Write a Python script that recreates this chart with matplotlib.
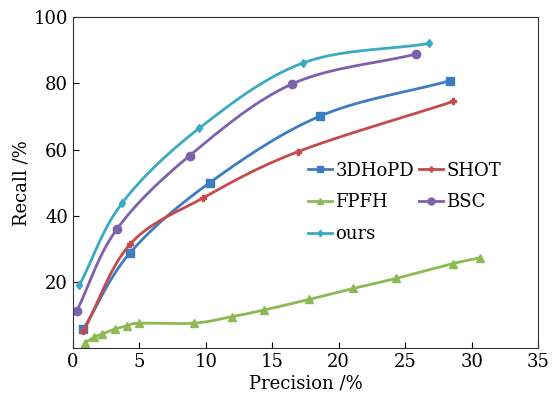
import numpy as np
import matplotlib
matplotlib.use("Agg")
import matplotlib.pyplot as plt
from matplotlib.lines import Line2D

# values
names = ["3DHoPD", "SHOT", "FPFH", "BSC", "ours"]
hopd_x = [0.8, 4.3, 10.3, 18.6, 28.4]
hopd_y = [5.9, 28.8, 50.0, 70.1, 80.8]
shot_x = [0.8, 4.3, 9.8, 16.9, 28.6]
shot_y = [5.2, 31.4, 45.4, 59.3, 74.5]
fpfh_x = [0.9, 1.6, 2.2, 3.2, 4.1, 5.0, 9.1, 12.0, 14.4, 17.8, 21.1, 24.3, 28.6, 30.6]
fpfh_y = [1.7, 3.4, 4.3, 5.9, 6.8, 7.6, 7.6, 9.6, 11.6, 14.8, 18.1, 21.1, 25.6, 27.3]
bsc_x = [0.3, 3.3, 8.8, 16.5, 25.8]
bsc_y = [11.3, 35.9, 58.2, 79.8, 88.8]
ours_x = [0.5, 3.7, 9.5, 17.3, 26.8]
ours_y = [19.1, 43.8, 66.4, 86.1, 92.0]

colors = ["#3d7cc0", "#c64a4b", "#8db955", "#7b62aa", "#3aaac2"]
markers = ["s", "P", "^", "o", "d"]
msizes = [5.5, 4.5, 5.5, 6, 4.5]


def smooth(x, y, n=30):
    # catmull-rom through the points, only for drawing the curve
    p = np.column_stack([x, y]).astype(float)
    p = np.vstack([2 * p[0] - p[1], p, 2 * p[-1] - p[-2]])
    out = []
    t = np.linspace(0, 1, n)[:, None]
    for i in range(1, len(p) - 2):
        p0, p1, p2, p3 = p[i - 1], p[i], p[i + 1], p[i + 2]
        seg = 0.5 * ((2 * p1) + (-p0 + p2) * t + (2 * p0 - 5 * p1 + 4 * p2 - p3) * t ** 2
                     + (-p0 + 3 * p1 - 3 * p2 + p3) * t ** 3)
        out.append(seg)
    out = np.vstack(out)
    return out[:, 0], out[:, 1]


plt.rcParams["font.family"] = "DejaVu Serif"
fig = plt.figure(figsize=(5.6, 3.95), dpi=100)
ax = fig.add_axes([0.130, 0.118, 0.831, 0.839])

series = [(hopd_x, hopd_y), (shot_x, shot_y), (fpfh_x, fpfh_y), (bsc_x, bsc_y), (ours_x, ours_y)]
handles = {}
for (x, y), c, m, ms, name in zip(series, colors, markers, msizes, names):
    sx, sy = smooth(x, y)
    ax.plot(sx, sy, color=c, lw=2, solid_capstyle="round")
    ax.plot(x, y, ls="none", marker=m, ms=ms, color=c, mec=c)
    handles[name] = Line2D([], [], color=c, lw=2, marker=m, ms=ms - 1, label=name)

ax.set_xlim(0, 35)
ax.set_ylim(0, 100)
ax.set_xticks([0, 5, 10, 15, 20, 25, 30, 35])
ax.set_yticks([20, 40, 60, 80, 100])
ax.tick_params(direction="in", length=4, labelsize=13, top=False, right=False)
for s in ax.spines.values():
    s.set_linewidth(0.8)
    s.set_color("#333333")
ax.set_xlabel("Precision /%", fontsize=13, labelpad=2)
ax.set_ylabel("Recall /%", fontsize=13, labelpad=2)

# legend fills column by column, so order it to read row by row
order = ["3DHoPD", "FPFH", "ours", "SHOT", "BSC"]
ax.legend(handles=[handles[k] for k in order], ncol=2, frameon=False, fontsize=13,
          loc="upper left", bbox_to_anchor=(0.49, 0.585), handlelength=1.3,
          handletextpad=0.2, columnspacing=0.3, labelspacing=0.75, borderaxespad=0)

fig.savefig("out.png", dpi=100)
